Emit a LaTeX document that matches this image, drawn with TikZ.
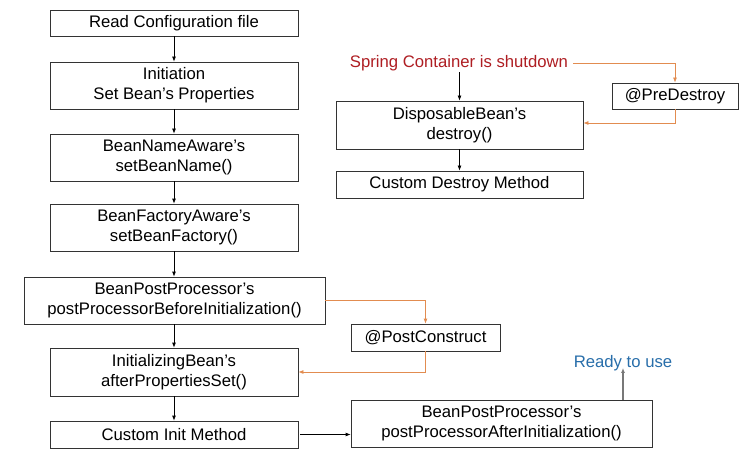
\documentclass[tikz,border=0pt]{standalone}
\usepackage{fontspec}
\setmainfont{Liberation Sans}
\usetikzlibrary{arrows.meta}
\definecolor{springred}{RGB}{175,30,35}
\definecolor{orangeln}{RGB}{226,140,80}
\definecolor{readyblue}{RGB}{40,110,170}
\definecolor{grayln}{RGB}{120,120,120}
\begin{document}
\begin{tikzpicture}[x=1pt,y=-1pt,
  box/.style={draw=black!80,line width=0.8pt,rectangle,inner sep=0pt,align=center,
    font=\fontsize{16.7}{20.3}\selectfont},
  lbl/.style={inner sep=1pt,font=\fontsize{16.7}{20.3}\selectfont},
  blk/.style={-{Latex[length=5pt,width=4pt]},line width=0.8pt,black},
  org/.style={-{Latex[length=5pt,width=4pt]},line width=0.8pt,orangeln},
  gry/.style={-{Latex[length=5pt,width=4pt]},line width=1.2pt,grayln}]
\useasboundingbox (0,0) rectangle (750,468);
\fill[white] (0,0) rectangle (750,468);
\node[box,minimum width=248,minimum height=26] (b1) at (174,23) {Read Configuration file};
\node[box,minimum width=248,minimum height=47] (b2) at (174,85.5) {Initiation\\Set Bean’s Properties};
\node[box,minimum width=248,minimum height=47] (b3) at (174,157.5) {BeanNameAware’s\\setBeanName()};
\node[box,minimum width=248,minimum height=47] (b4) at (174,227.5) {BeanFactoryAware’s\\setBeanFactory()};
\node[box,minimum width=301,minimum height=47] (b5) at (174.5,300.5) {BeanPostProcessor’s\\postProcessorBeforeInitialization()};
\node[box,minimum width=248,minimum height=48] (b6) at (174,372) {InitializingBean’s\\afterPropertiesSet()};
\node[box,minimum width=248,minimum height=27] (b7) at (174,434.5) {Custom Init Method};
\node[box,minimum width=149,minimum height=27] (pc) at (425.5,337.5) {@PostConstruct};
\node[box,minimum width=301,minimum height=47] (af) at (501.5,423.5) {BeanPostProcessor’s\\postProcessorAfterInitialization()};
\node[lbl,text=readyblue] (rd) at (623,363) {Ready to use};
\node[lbl,text=springred] (sp) at (459,63.5) {Spring Container is shutdown};
\node[box,minimum width=247,minimum height=48] (ds) at (459.5,125) {DisposableBean’s\\destroy()};
\node[box,minimum width=247,minimum height=27] (cd) at (459.5,184.5) {Custom Destroy Method};
\node[box,minimum width=126,minimum height=26] (pd) at (675,96) {@PreDestroy};
\draw[blk] (b1) -- (b2);
\draw[blk] (b2) -- (b3);
\draw[blk] (b3) -- (b4);
\draw[blk] (b4.south) -- (b4.south |- b5.north);
\draw[blk] (b5.south -| b4.south) -- (b6.north);
\draw[blk] (b6) -- (b7);
\draw[blk] (b7.east) ++(2,0) coordinate (c7) -- (c7 -| af.west);
\draw[org] (b5.east) -| (pc.north);
\draw[org] (pc.south) |- (b6.east);
\draw[blk] (sp.south -| ds.north) -- (ds.north);
\draw[blk] (ds) -- (cd);
\draw[org] (sp.east) ++(4,0) coordinate (se) -| (pd.north);
\draw[org] (pd.south) |- ([yshift=2]ds.east);
\draw[gry] (af.north -| rd.south) -- ([yshift=4]rd.south);
\end{tikzpicture}
\end{document}
